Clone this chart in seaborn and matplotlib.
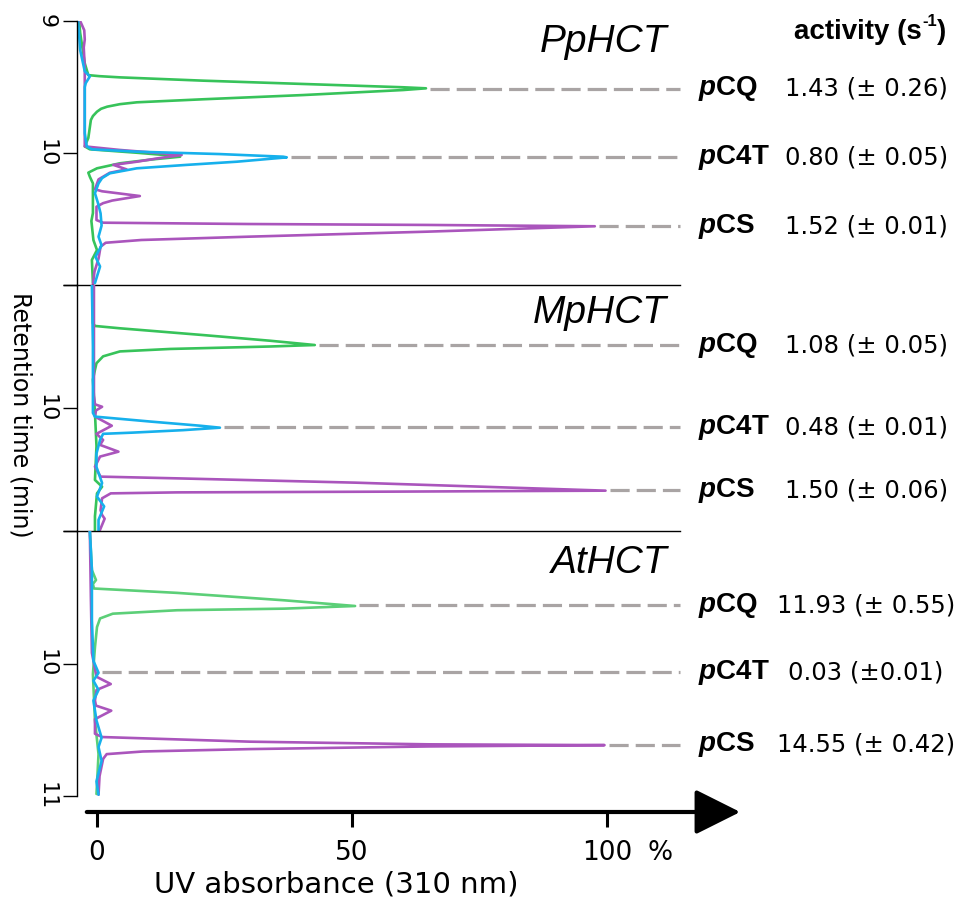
import matplotlib
matplotlib.use("Agg")
import matplotlib.pyplot as plt
import seaborn as sns
import pandas as pd

# ---- data: retention time (min) / UV absorbance (%) ----
# PpHCT
pp_green_rt = [9.00, 9.09, 9.32, 9.41, 9.418, 9.427, 9.452, 9.477, 9.502, 9.51, 9.523, 9.561, 9.593, 9.616, 9.63,
               9.649, 9.665, 9.687, 9.72, 9.75, 9.886, 9.95, 9.972, 9.998, 10.023, 10.028, 10.048, 10.078, 10.116,
               10.149, 10.18, 10.23, 10.33, 10.455, 10.515, 10.66, 10.735, 10.81, 10.985]
pp_green_ab = [-3.5, -3.3, -2.4, -1.7, 0.5, 4.5, 20.8, 40.4, 60.0, 64.5, 60.0, 40.4, 20.8, 7.8, 4.5,
               2.0, 0.8, 0.0, -0.8, -1.2, -1.7, -2.4, -1.4, 7.8, 15.7, 16.3, 11.0, 4.5, 0.0,
               -1.7, -1.4, -0.8, -0.8, -0.8, -1.1, -0.7, 0.0, -1.0, -0.8]
pp_cyan_rt = [9.00, 9.22, 9.38, 9.42, 9.47, 9.50, 9.85, 9.95, 9.972, 9.99, 10.008, 10.028, 10.033, 10.066,
              10.09, 10.116, 10.154, 10.19, 10.23, 10.305, 10.38, 10.457, 10.55, 10.634, 10.70, 10.786, 10.86, 10.985]
pp_cyan_ab = [-3.7, -3.3, -2.4, -1.4, -2.2, -2.4, -2.4, -2.0, -1.0, 7.8, 24.0, 36.5, 37.2, 27.4,
              17.6, 7.8, 2.5, 1.0, 0.3, -0.4, 0.2, 0.7, 0.9, 0.3, 0.9, -0.3, 0.6, -0.4]
pp_purple_rt = [9.00, 9.07, 9.14, 9.20, 9.35, 9.95, 9.977, 10.0, 10.015, 10.04, 10.066, 10.09, 10.124, 10.15,
                10.2, 10.275, 10.29, 10.326, 10.36, 10.38, 10.407, 10.508, 10.528, 10.538, 10.545, 10.555,
                10.596, 10.634, 10.659, 10.68, 10.71, 10.80, 10.90, 11.0]
pp_purple_ab = [-3.3, -2.5, -2.4, -2.6, -2.4, -2.4, 4.5, 12.0, 16.6, 12.0, 7.8, 3.2, 5.8, 2.5,
                0.3, -0.4, 1.0, 8.4, 3.0, 1.2, -0.1, -0.1, 1.2, 29.7, 64.7, 97.6,
                64.7, 29.7, 8.7, 1.7, 0.7, 0.3, -0.5, -0.8]

# MpHCT
mp_green_rt = [9.00, 9.31, 9.333, 9.352, 9.407, 9.453, 9.488, 9.50, 9.52, 9.54, 9.58, 9.636, 9.69, 9.77,
               10.04, 10.31, 10.585, 10.64, 10.694, 10.88, 11.0]
mp_green_ab = [-0.8, -0.8, -0.4, 4.5, 20.8, 33.9, 42.7, 33.9, 14.3, 4.5, 1.2, -0.1, -0.4, -0.8,
               -0.4, -0.1, -0.4, 1.0, 0.0, -0.4, -0.4]
mp_cyan_rt = [9.00, 9.50, 10.04, 10.07, 10.11, 10.144, 10.16, 10.18, 10.20, 10.21, 10.26, 10.37, 10.48,
              10.61, 10.72, 10.80, 10.91, 11.0]
mp_cyan_ab = [-1.0, -0.8, -0.8, -0.4, 10.4, 20.2, 24.1, 16.9, 7.1, 1.2, 0.6, -0.1, -0.1,
              1.0, 0.0, 1.4, 0.3, 0.3]
mp_purple_rt = [9.00, 9.90, 9.97, 9.99, 10.02, 10.07, 10.144, 10.21, 10.26, 10.30, 10.355, 10.395, 10.477,
                10.558, 10.572, 10.607, 10.672, 10.68, 10.686, 10.694, 10.734, 10.83, 10.87, 10.90, 11.0]
mp_purple_ab = [-0.6, -0.6, -0.4, 1.0, -0.2, -0.4, 2.9, -0.1, 1.2, 0.6, 4.2, 0.6, -0.4,
                0.7, 15.7, 50.7, 99.7, 57.6, 15.7, 2.7, 1.0, 0.7, 1.0, 1.5, 0.5]

# AtHCT
at_green_rt = [9.00, 9.295, 9.37, 9.40, 9.434, 9.467, 9.523, 9.566, 9.586, 9.598, 9.624, 9.66, 9.725,
               9.877, 10.08, 10.43, 10.684, 10.985]
at_green_ab = [-1.4, -1.0, -0.2, -0.8, -0.6, 15.7, 36.7, 50.6, 36.7, 15.7, 3.1, 0.6, 0.0,
               -0.4, -0.8, -0.4, 0.3, -0.1]
at_cyan_rt = [9.00, 9.295, 9.67, 9.98, 10.07, 10.13, 10.20, 10.28, 10.43, 10.56, 10.63, 10.735, 10.89, 10.99]
at_cyan_ab = [-1.4, -1.0, -1.0, -0.7, 0.3, -0.7, 0.3, -0.7, -0.1, 0.9, 0.3, 0.9, -0.1, 0.3]
at_purple_rt = [9.00, 9.50, 9.92, 10.10, 10.155, 10.20, 10.28, 10.318, 10.356, 10.42, 10.53, 10.555, 10.59,
                10.61, 10.616, 10.626, 10.646, 10.664, 10.684, 10.72, 10.85, 10.99]
at_purple_ab = [-1.4, -1.2, -1.0, -0.1, 2.7, -0.1, -0.4, -0.2, 2.8, -0.4, -0.4, 1.0, 30.0,
                65.0, 99.5, 65.0, 30.0, 9.0, 1.9, 1.2, 0.5, 0.3]

enzymes = ["PpHCT", "MpHCT", "AtHCT"]
compounds = ["pCQ", "pC4T", "pCS"]
# peak apex (retention time, absorbance) of each product, per enzyme
peak_rt = [[9.513, 10.032, 10.554], [9.488, 10.158, 10.67], [9.56, 10.066, 10.615]]
peak_ab = [[64.5, 37.2, 97.6], [42.7, 24.1, 99.7], [50.6, 0.2, 99.5]]
activity = [["1.43 (± 0.26)", "0.80 (± 0.05)", "1.52 (± 0.01)"],
            ["1.08 (± 0.05)", "0.48 (± 0.01)", "1.50 (± 0.06)"],
            ["11.93 (± 0.55)", "0.03 (±0.01)", "14.55 (± 0.42)"]]

traces = {
    "PpHCT": [(pp_green_rt, pp_green_ab, "#37c35a"), (pp_purple_rt, pp_purple_ab, "#aa55bc"), (pp_cyan_rt, pp_cyan_ab, "#16b0ec")],
    "MpHCT": [(mp_green_rt, mp_green_ab, "#37c35a"), (mp_purple_rt, mp_purple_ab, "#aa55bc"), (mp_cyan_rt, mp_cyan_ab, "#16b0ec")],
    "AtHCT": [(at_green_rt, at_green_ab, "#5ccf78"), (at_purple_rt, at_purple_ab, "#aa55bc"), (at_cyan_rt, at_cyan_ab, "#16b0ec")],
}

sns.set_style("white")
plt.rcParams["font.family"] = ["DejaVu Sans"]
plt.rcParams["text.color"] = "black"
plt.rcParams["xtick.color"] = "black"
plt.rcParams["ytick.color"] = "black"
plt.rcParams["axes.labelcolor"] = "black"
plt.rcParams["mathtext.fontset"] = "custom"
plt.rcParams["mathtext.it"] = "Liberation Sans:italic:bold"
plt.rcParams["mathtext.bf"] = "Liberation Sans:bold"
plt.rcParams["mathtext.rm"] = "Liberation Sans:bold"

W, H = 961, 898
fig = plt.figure(figsize=(W / 100, H / 100), dpi=100)

xmin, xmax = -3.92, 114.3
left, width = 77 / W, 603 / W
panel_px = [(21, 285), (285, 531), (531, 796)]
title_rt = [9.16, 9.23, 9.24]
ytick_labels = [["9", "10", ""], ["", "10", ""], ["", "10", "11"]]
sans = "Liberation Sans"

for i, name in enumerate(enzymes):
    top, bot = panel_px[i]
    ax = fig.add_axes([left, 1 - bot / H, width, (bot - top) / H])
    for rt, ab, col in traces[name]:
        df = pd.DataFrame({"rt": rt, "ab": ab})
        sns.lineplot(data=df, x="ab", y="rt", sort=False, estimator=None, color=col,
                     lw=1.9, ax=ax)
    for j, comp in enumerate(compounds):
        ax.plot([peak_ab[i][j] + 0.8, xmax], [peak_rt[i][j], peak_rt[i][j]], color="#a9a4a4",
                lw=2.3, dashes=(6, 2.2), solid_capstyle="butt", clip_on=False)
        ax.text(117.8, peak_rt[i][j], "$\\mathit{p}$" + comp[1:], family=sans, fontweight="bold",
                fontsize=20, ha="left", va="center")
        ax.text(150.8, peak_rt[i][j], activity[i][j], fontsize=17.5, ha="center", va="center")
    ax.text(111.8, title_rt[i], name, family=sans, style="italic", fontsize=28,
            ha="right", va="center")

    ax.set_xlim(xmin, xmax)
    ax.set_ylim(11, 9)
    ax.set_xticks([])
    ax.set_yticks([9, 10, 11])
    ax.set_yticklabels(ytick_labels[i])
    ax.set_xlabel("")
    ax.set_ylabel("")
    ax.tick_params(axis="y", left=True, length=10, width=1, direction="out", labelsize=16,
                   labelrotation=-90, pad=5, color="black")
    for lab in ax.get_yticklabels():
        lab.set_va("center")
    ax.spines["top"].set_visible(False)
    ax.spines["right"].set_visible(False)
    ax.spines["left"].set_linewidth(1)
    ax.spines["left"].set_color("black")
    if i < 2:
        ax.spines["bottom"].set_linewidth(1)
        ax.spines["bottom"].set_color("black")
    else:
        ax.spines["bottom"].set_visible(False)
    ax.patch.set_alpha(0)

# x axis with arrow
axx = fig.add_axes([left, 1 - 812 / H, width, 0.0001])
axx.set_xlim(xmin, xmax)
axx.set_yticks([])
for s in axx.spines.values():
    s.set_visible(False)
axx.set_xticks([0, 50, 100])
axx.set_xticklabels(["0", "50", "100"])
axx.tick_params(axis="x", bottom=True, length=11, width=2.2, direction="out", labelsize=19,
                pad=9, color="black")
axx.annotate("", xy=(126.1, 0), xytext=(-2.0, 0),
             xycoords=axx.get_xaxis_transform(), textcoords=axx.get_xaxis_transform(),
             arrowprops=dict(arrowstyle="-|>,head_length=1.0,head_width=0.5", mutation_scale=28,
                             lw=3, color="black", shrinkA=0, shrinkB=0),
             annotation_clip=False)
fig.text(660 / W, 1 - 853 / H, "%", fontsize=19, ha="center", va="center")
fig.text(336 / W, 1 - 884 / H, "UV absorbance (310 nm)", fontsize=21, ha="center", va="center")
fig.text(20 / W, 1 - 415 / H, "Retention time (min)", fontsize=17, rotation=-90,
         ha="center", va="center")

# header: activity (s-1) with a small superscript
head = fig.text(922 / W, 1 - 32 / H, "activity (s", family=sans, fontweight="bold",
                fontsize=20, ha="right", va="center")
s1 = axx.annotate("-1", xy=(1.0, 0.62), xycoords=head, family=sans, fontweight="bold",
                  fontsize=12, ha="left", va="bottom", annotation_clip=False)
s2 = axx.annotate(")", xy=(1.0, 0.5), xycoords=(s1, head), family=sans, fontweight="bold",
                  fontsize=20, ha="left", va="center", annotation_clip=False)

fig.savefig("out.png", dpi=100)
